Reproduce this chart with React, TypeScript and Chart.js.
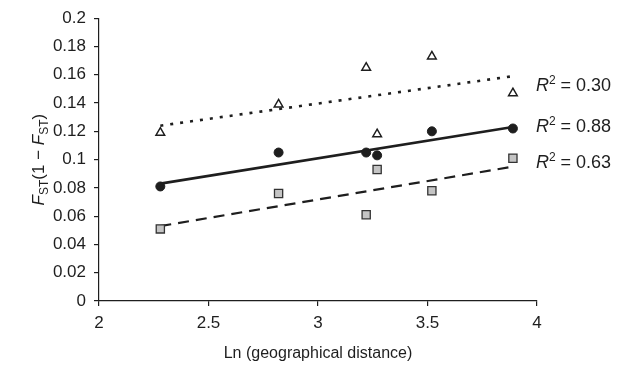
import React, { useEffect, useRef } from "react";
import { Chart, registerables } from "chart.js";

Chart.register(...registerables);

const xValues = [2.28, 2.82, 3.22, 3.27, 3.52, 3.89];
const triangleValues = [0.119, 0.139, 0.165, 0.118, 0.173, 0.147];
const circleValues = [0.081, 0.105, 0.105, 0.103, 0.12, 0.122];
const squareValues = [0.051, 0.076, 0.061, 0.093, 0.078, 0.101];

const trendX = [2.28, 3.89];
const triangleTrend = [0.124, 0.159];
const circleTrend = [0.083, 0.123];
const squareTrend = [0.053, 0.095];

const r2Labels = ["0.30", "0.88", "0.63"];
const xTitle = "Ln (geographical distance)";

const INK = "#1e1e1e";
const FONT = "'Liberation Sans', Arial, Helvetica, sans-serif";

type Seg = { t: string; italic?: boolean; size: number; dy?: number };

function drawSegs(ctx: CanvasRenderingContext2D, segs: Seg[], x: number, y: number, center: boolean) {
  let total = 0;
  const widths = segs.map((s) => {
    ctx.font = `${s.italic ? "italic " : ""}${s.size}px ${FONT}`;
    const w = ctx.measureText(s.t).width;
    total += w;
    return w;
  });
  let cx = center ? x - total / 2 : x;
  segs.forEach((s, i) => {
    ctx.font = `${s.italic ? "italic " : ""}${s.size}px ${FONT}`;
    ctx.fillText(s.t, cx, y + (s.dy || 0));
    cx += widths[i];
  });
}

const pts = (vals: number[]) => xValues.map((x, i) => ({ x, y: vals[i] }));
const trend = (vals: number[]) => trendX.map((x, i) => ({ x, y: vals[i] }));

const labelsPlugin = {
  id: "customText",
  afterDraw(chart: any) {
    const ctx: CanvasRenderingContext2D = chart.ctx;
    const area = chart.chartArea;
    ctx.save();
    ctx.fillStyle = INK;
    ctx.textBaseline = "alphabetic";
    ctx.textAlign = "left";

    // y-axis title
    ctx.save();
    ctx.translate(44, (area.top + area.bottom) / 2);
    ctx.rotate(-Math.PI / 2);
    drawSegs(
      ctx,
      [
        { t: "F", italic: true, size: 17 },
        { t: "ST", size: 12, dy: 4 },
        { t: "(1 \u2212 ", size: 17 },
        { t: "F", italic: true, size: 17 },
        { t: "ST", size: 12, dy: 4 },
        { t: ")", size: 17 },
      ],
      0,
      0,
      true
    );
    ctx.restore();

    // x-axis title
    drawSegs(ctx, [{ t: xTitle, size: 16 }], (area.left + area.right) / 2, 358, true);

    // R^2 labels next to trend line ends
    const offsets = [15, 5, 1];
    [1, 2, 3].forEach((dsIndex, k) => {
      const meta = chart.getDatasetMeta(dsIndex);
      const last = meta.data[meta.data.length - 1];
      drawSegs(
        ctx,
        [
          { t: "R", italic: true, size: 18 },
          { t: "2", size: 12, dy: -7 },
          { t: " = " + r2Labels[k], size: 18 },
        ],
        last.x + 23,
        last.y + offsets[k],
        false
      );
    });
    ctx.restore();
  },
};

export default function App() {
  const ref = useRef<HTMLCanvasElement>(null);
  useEffect(() => {
    if (!ref.current) return;
    const chart = new Chart(ref.current, {
      type: "scatter",
      data: {
        datasets: [
          {
            label: "trend-dummy",
            data: [],
            order: 5,
          } as any,
          {
            label: "tri trend",
            data: trend(triangleTrend),
            showLine: true,
            borderColor: INK,
            borderWidth: 2.6,
            borderDash: [3, 7],
            pointRadius: 0,
            order: 3,
          },
          {
            label: "circ trend",
            data: trend(circleTrend),
            showLine: true,
            borderColor: INK,
            borderWidth: 2.6,
            pointRadius: 0,
            order: 3,
          },
          {
            label: "sq trend",
            data: trend(squareTrend),
            showLine: true,
            borderColor: INK,
            borderWidth: 2.2,
            borderDash: [11, 7],
            pointRadius: 0,
            order: 3,
          },
          {
            label: "triangles",
            data: pts(triangleValues),
            pointStyle: "triangle",
            pointRadius: 5,
            pointBackgroundColor: "#ffffff",
            pointBorderColor: INK,
            pointBorderWidth: 1.5,
            order: 0,
          },
          {
            label: "circles",
            data: pts(circleValues),
            pointStyle: "circle",
            pointRadius: 4.5,
            pointBackgroundColor: INK,
            pointBorderColor: INK,
            pointBorderWidth: 1,
            order: 0,
          },
          {
            label: "squares",
            data: pts(squareValues),
            pointStyle: "rect",
            pointRadius: 5.8,
            pointBackgroundColor: "#c4c4c4",
            pointBorderColor: "#333333",
            pointBorderWidth: 1.3,
            order: 0,
          },
        ],
      },
      options: {
        animation: false,
        responsive: false,
        events: [],
        layout: { padding: { left: 0, top: 18, right: 91, bottom: 0 } },
        plugins: { legend: { display: false }, tooltip: { enabled: false } },
        scales: {
          x: {
            type: "linear",
            min: 2,
            max: 4,
            ticks: {
              stepSize: 0.5,
              color: INK,
              font: { family: FONT, size: 17 },
              padding: 7,
              maxRotation: 0,
              callback: (v: any) => String(Number(Number(v).toFixed(1))),
            },
            grid: { drawOnChartArea: false, drawTicks: true, tickLength: 5, color: INK, lineWidth: 1.2 },
            border: { display: true, color: INK, width: 1.2 },
            afterFit: (s: any) => {
              s.height = 68;
            },
          },
          y: {
            type: "linear",
            min: 0,
            max: 0.2,
            ticks: {
              stepSize: 0.02,
              color: INK,
              font: { family: FONT, size: 17 },
              padding: 8,
              callback: (v: any) => String(Number(Number(v).toFixed(2))),
            },
            grid: { drawOnChartArea: false, drawTicks: true, tickLength: 5, color: INK, lineWidth: 1.2 },
            border: { display: true, color: INK, width: 1.2 },
            afterFit: (s: any) => {
              s.width = 99;
            },
          },
        },
      },
      plugins: [labelsPlugin],
    });
    return () => chart.destroy();
  }, []);
  return (
    <div style={{ position: "absolute", left: 0, top: 0, width: 628, height: 369, background: "#fff" }}>
      <canvas ref={ref} width={628} height={369} style={{ display: "block" }} />
    </div>
  );
}
